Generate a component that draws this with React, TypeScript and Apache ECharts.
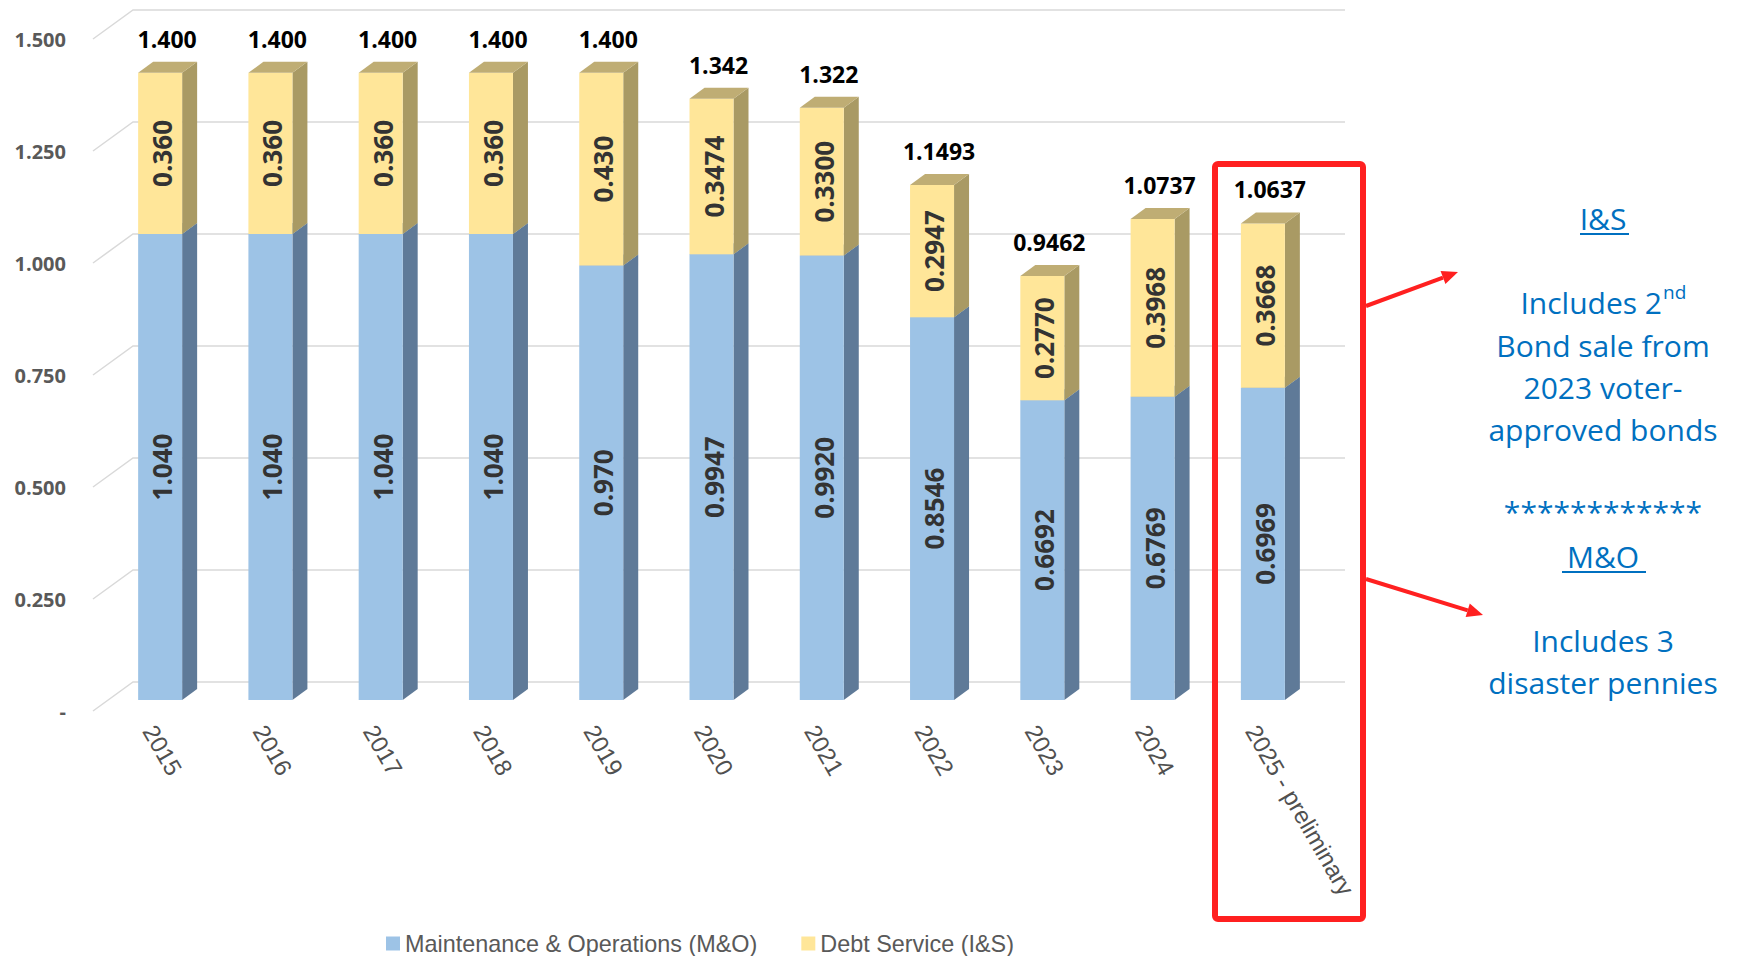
import React, { useEffect, useRef } from 'react';
import * as echarts from 'echarts';

const years = ['2015', '2016', '2017', '2018', '2019', '2020', '2021', '2022', '2023', '2024', '2025 - preliminary'];
const moValues = [1.04, 1.04, 1.04, 1.04, 0.97, 0.9947, 0.992, 0.8546, 0.6692, 0.6769, 0.6969];
const isValues = [0.36, 0.36, 0.36, 0.36, 0.43, 0.3474, 0.33, 0.2947, 0.277, 0.3968, 0.3668];
const moLabels = ['1.040', '1.040', '1.040', '1.040', '0.970', '0.9947', '0.9920', '0.8546', '0.6692', '0.6769', '0.6969'];
const isLabels = ['0.360', '0.360', '0.360', '0.360', '0.430', '0.3474', '0.3300', '0.2947', '0.2770', '0.3968', '0.3668'];
const totalLabels = ['1.400', '1.400', '1.400', '1.400', '1.400', '1.342', '1.322', '1.1493', '0.9462', '1.0737', '1.0637'];
const yTicks = [0, 0.25, 0.5, 0.75, 1, 1.25, 1.5];
const seriesNames = ['Maintenance & Operations (M&O)', 'Debt Service (I&S)'];

const noteIS = 'I&S';
const noteISLine1 = 'Includes 2';
const noteISSup = 'nd';
const noteISLines = ['Bond sale from', '2023 voter-', 'approved bonds'];
const noteStars = '***********' + '*';
const noteMO = 'M&O';
const noteMOLines = ['Includes 3', 'disaster pennies'];

const BLUE = { front: '#9DC3E6', side: '#5F7A98', top: '#7C9CBD' };
const YELLOW = { front: '#FFE699', side: '#A99A64', top: '#BFAD74' };
const NOTE_COLOR = '#0070C0';
const NOTE_FONT = '"Open Sans", "Noto Sans", sans-serif';

function barRenderer(colors: any, labels: string[], totals: string[] | null) {
  return (params: any, api: any) => {
    const idx = params.dataIndex;
    const x = api.value(0);
    const lo = api.value(1);
    const hi = api.value(2);
    const b = api.coord([x, lo]);
    const t = api.coord([x, hi]);
    const hw = 22;
    const dx = 15;
    const dy = -11;
    const xl = b[0] - hw;
    const xr = b[0] + hw;
    const children: any[] = [
      {
        type: 'polygon',
        shape: { points: [[xr, t[1]], [xr + dx, t[1] + dy], [xr + dx, b[1] + dy], [xr, b[1]]] },
        style: { fill: colors.side },
      },
      {
        type: 'rect',
        shape: { x: xl, y: t[1], width: hw * 2, height: b[1] - t[1] },
        style: { fill: colors.front },
      },
      {
        type: 'polygon',
        shape: { points: [[xl, t[1]], [xr, t[1]], [xr + dx, t[1] + dy], [xl + dx, t[1] + dy]] },
        style: { fill: colors.top },
      },
      {
        type: 'text',
        x: b[0] + 2,
        y: (b[1] + t[1]) / 2,
        rotation: Math.PI / 2,
        style: {
          text: labels[idx],
          fill: '#333333',
          fontSize: 26,
          fontWeight: 'bold',
          fontFamily: '"Open Sans", sans-serif',
          align: 'center',
          verticalAlign: 'middle',
          textAlign: 'center',
          textVerticalAlign: 'middle',
        },
      },
    ];
    if (totals) {
      children.push({
        type: 'text',
        x: b[0] + 7,
        y: t[1] - 34,
        style: {
          text: totals[idx],
          fill: '#000000',
          fontSize: 23,
          fontWeight: 'bold',
          fontFamily: '"Open Sans", sans-serif',
          align: 'center',
          verticalAlign: 'middle',
          textAlign: 'center',
          textVerticalAlign: 'middle',
        },
      });
    }
    return { type: 'group', children };
  };
}

function gridRenderer(params: any, api: any) {
  const cs = params.coordSys;
  const p = api.coord([0, api.value(1)]);
  const y = p[1];
  return {
    type: 'polyline',
    shape: {
      points: [
        [cs.x - 12, y + 11],
        [cs.x + 28, y - 18],
        [cs.x + cs.width + 27, y - 18],
      ],
    },
    style: { stroke: '#D9D9D9', lineWidth: 1.5, fill: 'none' },
  };
}

function noteText(text: string, x: number, y: number, extra: any = {}) {
  return {
    type: 'text',
    x,
    y,
    style: {
      text,
      fill: NOTE_COLOR,
      fontSize: 30,
      fontFamily: NOTE_FONT,
      align: 'center',
      verticalAlign: 'middle',
      textAlign: 'center',
      textVerticalAlign: 'middle',
      ...extra,
    },
  };
}

function arrow(x1: number, y1: number, x2: number, y2: number) {
  const ang = Math.atan2(y2 - y1, x2 - x1);
  const len = 16;
  const wid = 7;
  const bx = x2 - len * Math.cos(ang);
  const by = y2 - len * Math.sin(ang);
  const px = -Math.sin(ang) * wid;
  const py = Math.cos(ang) * wid;
  return [
    {
      type: 'line',
      shape: { x1, y1, x2: bx, y2: by },
      style: { stroke: '#FF2020', lineWidth: 4 },
    },
    {
      type: 'polygon',
      shape: { points: [[x2, y2], [bx + px, by + py], [bx - px, by - py]] },
      style: { fill: '#FF2020' },
    },
  ];
}

export default function App() {
  const ref = useRef<HTMLDivElement>(null);
  useEffect(() => {
    if (!ref.current) return;
    const chart = echarts.init(ref.current, null, { renderer: 'svg' });
    const cx = 1603;
    const option: any = {
      animation: false,
      backgroundColor: '#ffffff',
      grid: [
        { left: 105, width: 1213, top: 28, height: 672 },
        { left: 94, width: 1213, top: 39, height: 672 },
      ],
      xAxis: [
        {
          type: 'category',
          gridIndex: 0,
          data: years,
          axisLine: { show: false },
          axisTick: { show: false },
          axisLabel: { show: false },
          splitLine: { show: false },
        },
        {
          type: 'category',
          gridIndex: 1,
          data: years,
          axisLine: { show: false },
          axisTick: { show: false },
          splitLine: { show: false },
          axisLabel: {
            rotate: -60,
            margin: 16,
            color: '#505050',
            fontSize: 24,
            fontFamily: '"Liberation Sans", Arial, sans-serif',
            interval: 0,
          },
        },
      ],
      yAxis: [
        {
          type: 'value',
          gridIndex: 0,
          min: 0,
          max: 1.5,
          interval: 0.25,
          show: false,
        },
        {
          type: 'value',
          gridIndex: 1,
          min: 0,
          max: 1.5,
          interval: 0.25,
          axisLine: { show: false },
          axisTick: { show: false },
          splitLine: { show: false },
          axisLabel: {
            margin: 28,
            color: '#595959',
            fontSize: 20,
            fontWeight: 'bold',
            fontFamily: '"Open Sans", sans-serif',
            formatter: (v: number) => (v === 0 ? '-' : v.toFixed(3)),
          },
        },
      ],
      legend: {
        data: seriesNames,
        left: 381,
        top: 927,
        itemWidth: 14,
        itemHeight: 14,
        itemGap: 44,
        icon: 'rect',
        textStyle: {
          color: '#595959',
          fontSize: 23.4,
          fontFamily: '"Liberation Sans", Arial, sans-serif',
        },
      },
      series: [
        {
          type: 'custom',
          name: 'grid',
          xAxisIndex: 0,
          yAxisIndex: 0,
          silent: true,
          z: 1,
          data: yTicks.map((v) => [0, v]),
          renderItem: gridRenderer,
        },
        {
          type: 'custom',
          name: seriesNames[0],
          xAxisIndex: 0,
          yAxisIndex: 0,
          z: 2,
          itemStyle: { color: BLUE.front },
          data: moValues.map((v, i) => [i, 0, v]),
          encode: { x: 0, y: 2 },
          renderItem: barRenderer(BLUE, moLabels, null),
        },
        {
          type: 'custom',
          name: seriesNames[1],
          xAxisIndex: 0,
          yAxisIndex: 0,
          z: 3,
          itemStyle: { color: YELLOW.front },
          data: isValues.map((v, i) => [i, moValues[i], moValues[i] + v]),
          encode: { x: 0, y: 2 },
          renderItem: barRenderer(YELLOW, isLabels, totalLabels),
        },
      ],
      graphic: [
        {
          type: 'rect',
          shape: { x: 1215, y: 164, width: 148, height: 755, r: 3 },
          style: { fill: 'none', stroke: '#FF2020', lineWidth: 6 },
          z: 10,
        },
        ...arrow(1366, 306, 1458, 272),
        ...arrow(1366, 579, 1483, 615),
        noteText(noteIS, cx, 218),
        { type: 'line', shape: { x1: 1580, y1: 234, x2: 1629, y2: 234 }, style: { stroke: NOTE_COLOR, lineWidth: 2 } },
        {
          type: 'text',
          x: 1662,
          y: 302,
          style: {
            text: noteISLine1, fill: NOTE_COLOR, fontSize: 30, fontFamily: NOTE_FONT,
            align: 'right', verticalAlign: 'middle', textAlign: 'right', textVerticalAlign: 'middle',
          },
        },
        {
          type: 'text',
          x: 1663,
          y: 292,
          style: {
            text: noteISSup, fill: NOTE_COLOR, fontSize: 19, fontFamily: NOTE_FONT,
            align: 'left', verticalAlign: 'middle', textAlign: 'left', textVerticalAlign: 'middle',
          },
        },
        ...noteISLines.map((s, i) => noteText(s, cx, 345 + i * 42)),
        noteText(noteStars, cx, 511),
        noteText(noteMO, cx, 556),
        { type: 'line', shape: { x1: 1562, y1: 572, x2: 1646, y2: 572 }, style: { stroke: NOTE_COLOR, lineWidth: 2 } },
        ...noteMOLines.map((s, i) => noteText(s, cx, 640 + i * 42)),
      ],
    };
    chart.setOption(option);
    return () => chart.dispose();
  }, []);
  return (
    <div
      ref={ref}
      style={{ position: 'absolute', left: 0, top: 0, width: 1743, height: 956, background: '#fff' }}
    />
  );
}
